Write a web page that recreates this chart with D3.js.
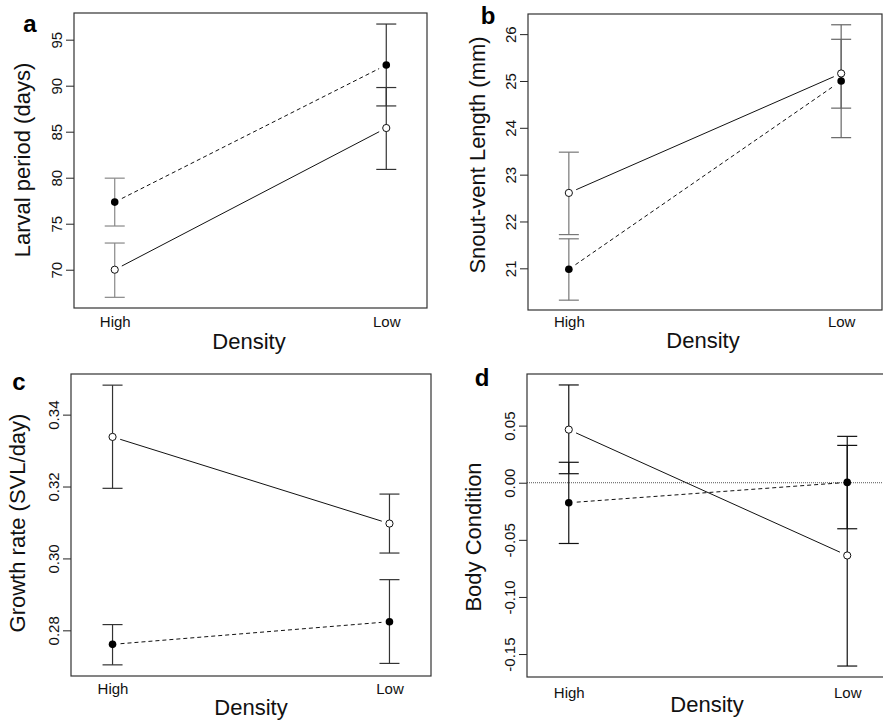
<!DOCTYPE html>
<html>
<head>
<meta charset="utf-8">
<script src="https://cdn.jsdelivr.net/npm/d3@7"></script>
<style>
  body { margin: 0; background: #fff; }
  svg { display: block; font-family: "Liberation Sans", Arial, sans-serif; }
</style>
</head>
<body>
<svg id="chart"></svg>
<script>
 // x categories shared by all four panels
 let categories = ['High', 'Low'];

 // a - larval period (days)
 let larvalTicks = [70, 75, 80, 85, 90, 95];
 let larvalOpen = [70.0, 85.4];
 let larvalOpenLo = [67.0, 80.9];
 let larvalOpenHi = [72.9, 89.8];
 let larvalFilled = [77.35, 92.25];
 let larvalFilledLo = [74.75, 87.8];
 let larvalFilledHi = [79.95, 96.7];

 // b - snout-vent length (mm)
 let svlTicks = [21, 22, 23, 24, 25, 26];
 let svlOpen = [22.61, 25.16];
 let svlOpenLo = [21.72, 24.42];
 let svlOpenHi = [23.48, 25.89];
 let svlFilled = [20.98, 25.0];
 let svlFilledLo = [20.32, 23.79];
 let svlFilledHi = [21.63, 26.2];

 // c - growth rate (SVL/day)
 let growthTicks = [0.28, 0.30, 0.32, 0.34];
 let growthOpen = [0.3338, 0.3097];
 let growthOpenLo = [0.3195, 0.3015];
 let growthOpenHi = [0.3482, 0.3179];
 let growthFilled = [0.2761, 0.2824];
 let growthFilledLo = [0.2704, 0.2708];
 let growthFilledHi = [0.2816, 0.2941];

 // d - body condition
 let bodyTicks = [-0.15, -0.10, -0.05, 0.00, 0.05];
 let bodyOpen = [0.0465, -0.0637];
 let bodyOpenLo = [0.0079, -0.1605];
 let bodyOpenHi = [0.0856, 0.0327];
 let bodyFilled = [-0.0175, 0.0003];
 let bodyFilledLo = [-0.0532, -0.0403];
 let bodyFilledHi = [0.0179, 0.0406];

 let width = 883;
 let height = 721;

 let svg = d3.select('svg')
     .attr('width', width)
     .attr('height', height)

 let panels = [
  {letter: 'a', title: 'Larval period (days)', ticks: larvalTicks, fmt: d3.format('d'),
   domain: [65.84, 97.9], box: {x: 74, y: 13, w: 353, h: 295},
   open: [larvalOpen, larvalOpenLo, larvalOpenHi], filled: [larvalFilled, larvalFilledLo, larvalFilledHi],
   letterPos: [30, 32], titlePos: [22, 160], xlabPos: [249, 349], catOff: 19, barColor: ['#888', '#333']},
  {letter: 'b', title: 'Snout-vent Length (mm)', ticks: svlTicks, fmt: d3.format('d'),
   domain: [20.11, 26.43], box: {x: 528, y: 14, w: 354, h: 296},
   open: [svlOpen, svlOpenLo, svlOpenHi], filled: [svlFilled, svlFilledLo, svlFilledHi],
   letterPos: [488, 24], titlePos: [477, 155], xlabPos: [703, 348], catOff: 17, barColor: ['#777', '#666']},
  {letter: 'c', title: 'Growth rate (SVL/day)', ticks: growthTicks, fmt: d3.format('.2f'),
   domain: [0.2673, 0.3513], box: {x: 71, y: 374, w: 360, h: 302},
   open: [growthOpen, growthOpenLo, growthOpenHi], filled: [growthFilled, growthFilledLo, growthFilledHi],
   letterPos: [19, 390], titlePos: [17, 523], xlabPos: [251, 715], catOff: 18, barColor: ['#333', '#333']},
  {letter: 'd', title: 'Body Condition', ticks: bodyTicks, fmt: d3.format('.2f'),
   domain: [-0.1701, 0.0952], box: {x: 527, y: 374, w: 362, h: 303},
   open: [bodyOpen, bodyOpenLo, bodyOpenHi], filled: [bodyFilled, bodyFilledLo, bodyFilledHi],
   letterPos: [482, 386], titlePos: [473, 537], xlabPos: [707, 712], catOff: 21, barColor: ['#111', '#111'], zeroLine: true}
 ]

 let drawPanel = (p) => {
  let g = svg.append('g')
  let b = p.box

  let xScale = d3.scalePoint()
                 .domain(categories)
                 .range([b.x, b.x + b.w])
                 .padding(0.15)
  let yScale = d3.scaleLinear()
                 .domain(p.domain)
                 .range([b.y + b.h, b.y])

  // dotted reference line at zero
  if (p.zeroLine) {
   g.append('line')
    .attr('x1', b.x).attr('x2', b.x + b.w)
    .attr('y1', yScale(0)).attr('y2', yScale(0))
    .attr('stroke', '#555')
    .attr('stroke-width', 1)
    .attr('stroke-dasharray', '1,1')
  }

  // y axis, R style: ticks out, labels parallel to axis
  let yAxis = d3.axisLeft(yScale)
                .tickValues(p.ticks)
                .tickSize(8)
                .tickSizeOuter(0)
                .tickFormat(d => p.fmt(d).replace('\u2212', '-'))
  let ya = g.append('g')
   .attr('transform', `translate(${b.x}, 0)`)
   .call(yAxis)
  ya.select('.domain').remove()
  ya.selectAll('line').attr('stroke', '#222')
  ya.selectAll('text')
    .attr('transform', 'rotate(-90)')
    .attr('x', 0)
    .attr('y', -12)
    .attr('dy', 0)
    .attr('text-anchor', 'middle')
    .attr('font-size', 15)
    .attr('fill', '#111')

  // x category labels, no ticks
  let xa = g.append('g')
   .attr('transform', `translate(0, ${b.y + b.h})`)
   .call(d3.axisBottom(xScale).tickSize(0))
  xa.select('.domain').remove()
  xa.selectAll('text')
    .attr('y', p.catOff)
    .attr('dy', 0)
    .attr('font-size', 15)
    .attr('fill', '#111')

  // error bars
  let series = [p.open, p.filled]
  series.forEach(s => {
   categories.forEach((c, i) => {
    let x = xScale(c)
    let col = p.barColor[i]
    g.append('line')
     .attr('x1', x).attr('x2', x)
     .attr('y1', yScale(s[1][i])).attr('y2', yScale(s[2][i]))
     .attr('stroke', col).attr('stroke-width', 1.2)
    ;[s[1][i], s[2][i]].forEach(v => {
     g.append('line')
      .attr('x1', x - 10).attr('x2', x + 10)
      .attr('y1', yScale(v)).attr('y2', yScale(v))
      .attr('stroke', col).attr('stroke-width', 1.2)
    })
   })
  })

  // connecting lines with a gap at the points (type = "b")
  let gap = 8
  let connect = (vals, dash) => {
   let x0 = xScale(categories[0]), y0 = yScale(vals[0])
   let x1 = xScale(categories[1]), y1 = yScale(vals[1])
   let len = Math.hypot(x1 - x0, y1 - y0)
   let ux = (x1 - x0) / len, uy = (y1 - y0) / len
   g.append('line')
    .attr('x1', x0 + ux * gap).attr('y1', y0 + uy * gap)
    .attr('x2', x1 - ux * gap).attr('y2', y1 - uy * gap)
    .attr('stroke', '#111')
    .attr('stroke-width', 1)
    .attr('stroke-dasharray', dash)
  }
  connect(p.open[0], null)
  connect(p.filled[0], '4,3')

  // points
  g.selectAll('circle.open')
   .data(p.open[0])
   .enter()
   .append('circle')
   .attr('class', 'open')
   .attr('cx', (d, i) => xScale(categories[i]))
   .attr('cy', d => yScale(d))
   .attr('r', 3.6)
   .attr('fill', '#fff')
   .attr('stroke', '#111')
   .attr('stroke-width', 1)
  g.selectAll('circle.filled')
   .data(p.filled[0])
   .enter()
   .append('circle')
   .attr('class', 'filled')
   .attr('cx', (d, i) => xScale(categories[i]))
   .attr('cy', d => yScale(d))
   .attr('r', 3.8)
   .attr('fill', '#000')

  // box
  g.append('rect')
   .attr('x', b.x).attr('y', b.y)
   .attr('width', b.w).attr('height', b.h)
   .attr('fill', 'none')
   .attr('stroke', '#333')
   .attr('stroke-width', 1.2)

  // texts
  g.append('text')
   .attr('x', p.letterPos[0]).attr('y', p.letterPos[1])
   .attr('text-anchor', 'middle')
   .attr('font-size', 24)
   .attr('font-weight', 'bold')
   .text(p.letter)

  g.append('text')
   .attr('transform', `translate(${p.titlePos[0]}, ${p.titlePos[1]}) rotate(-90)`)
   .attr('dy', '0.35em')
   .attr('text-anchor', 'middle')
   .attr('font-size', 22)
   .attr('fill', '#111')
   .text(p.title)

  g.append('text')
   .attr('x', p.xlabPos[0]).attr('y', p.xlabPos[1])
   .attr('text-anchor', 'middle')
   .attr('font-size', 22)
   .attr('fill', '#111')
   .text('Density')
 }

 panels.forEach(drawPanel)
</script>
</body>
</html>
